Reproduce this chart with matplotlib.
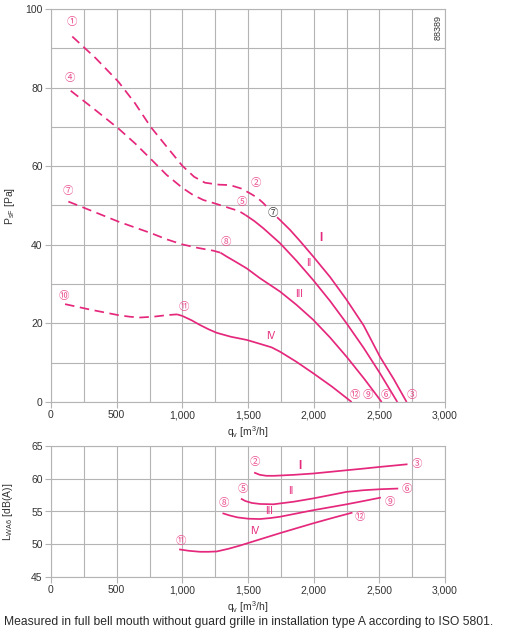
import matplotlib
matplotlib.use("Agg")
import matplotlib.pyplot as plt
from matplotlib.ticker import MultipleLocator, FuncFormatter

plt.rcParams['font.family'] = ['Liberation Sans', 'DejaVu Sans']
plt.rcParams['mathtext.fontset'] = 'custom'
plt.rcParams['mathtext.rm'] = 'Liberation Sans'
plt.rcParams['mathtext.it'] = 'Liberation Sans'

# ---------------- data: pressure curves (q [m3/h], p [Pa]) ----------------
c1_dash_q = [162, 340, 513, 640, 759, 880, 1000, 1090, 1172, 1280, 1363, 1450, 1515, 1570, 1617, 1690]
c1_dash_p = [93.0, 87.5, 81.5, 76.0, 70.0, 65.0, 60.1, 57.3, 55.8, 55.3, 55.2, 54.3, 53.1, 52.0, 50.6, 48.0]
c1_sol_q = [1690, 1744, 1820, 1900, 1997, 2125, 2251, 2380, 2505, 2610, 2708]
c1_sol_p = [48.0, 46.3, 43.8, 40.8, 37.0, 31.8, 26.0, 19.5, 11.5, 5.8, 0.0]

c2_dash_q = [150, 330, 513, 640, 767, 880, 1000, 1080, 1160, 1260, 1363, 1430, 1480]
c2_dash_p = [79.2, 74.5, 69.6, 65.8, 61.6, 57.8, 54.5, 52.7, 51.4, 50.4, 49.3, 48.6, 47.6]
c2_sol_q = [1480, 1550, 1617, 1744, 1870, 1997, 2125, 2251, 2380, 2505, 2637]
c2_sol_p = [47.6, 46.0, 44.2, 40.4, 35.9, 31.0, 25.7, 20.0, 13.8, 7.3, 0.0]

c3_dash_q = [132, 320, 513, 640, 767, 880, 1000, 1120, 1236, 1290]
c3_dash_p = [51.0, 48.5, 45.9, 44.4, 42.9, 41.4, 40.1, 39.2, 38.5, 38.0]
c3_sol_q = [1290, 1338, 1410, 1490, 1591, 1744, 1870, 1997, 2125, 2251, 2385, 2518]
c3_sol_p = [38.0, 37.0, 35.6, 34.0, 31.5, 28.1, 24.7, 20.9, 16.4, 11.5, 5.9, 0.0]

c4_dash_q = [107, 300, 513, 600, 678, 780, 881, 960]
c4_dash_p = [24.9, 23.5, 22.1, 21.7, 21.5, 21.7, 22.1, 22.3]
c4_sol_q = [960, 1000, 1070, 1134, 1200, 1262, 1370, 1490, 1591, 1680, 1744, 1870, 1997, 2140, 2289]
c4_sol_p = [22.3, 21.9, 20.8, 19.6, 18.5, 17.6, 16.6, 15.8, 14.8, 13.9, 12.8, 10.2, 7.3, 3.9, 0.0]

# ---------------- data: sound power curves (q [m3/h], L [dB(A)]) ----------------
s1_q = [1553, 1590, 1640, 1700, 1850, 1997, 2125, 2251, 2380, 2500, 2708]
s1_l = [60.9, 60.6, 60.45, 60.45, 60.6, 60.8, 61.05, 61.3, 61.55, 61.8, 62.2]
s2_q = [1452, 1480, 1530, 1591, 1693, 1850, 1997, 2125, 2251, 2380, 2505, 2637]
s2_l = [56.9, 56.6, 56.3, 56.15, 56.1, 56.5, 57.0, 57.5, 58.0, 58.25, 58.4, 58.5]
s3_q = [1312, 1360, 1420, 1502, 1591, 1670, 1744, 1870, 1997, 2125, 2251, 2380, 2505]
s3_l = [54.7, 54.4, 54.1, 53.9, 53.85, 54.0, 54.2, 54.7, 55.2, 55.65, 56.1, 56.6, 57.1]
s4_q = [982, 1050, 1134, 1200, 1262, 1350, 1439, 1591, 1744, 1870, 1997, 2140, 2289]
s4_l = [49.2, 49.0, 48.85, 48.85, 48.9, 49.3, 49.8, 50.75, 51.7, 52.45, 53.2, 54.0, 54.8]

# ---------------- labels ----------------
top_marks = ['①', '④', '⑦', '⑩', '②', '⑤', '⑧', '⑪', '⑫', '⑨', '⑥', '③']
top_marks_q = [160, 145, 130, 99, 1560, 1455, 1330, 1013, 2315, 2416, 2551, 2751]
top_marks_p = [96.7, 82.4, 53.7, 27.0, 55.7, 51.0, 40.6, 24.3, 1.8, 1.8, 1.8, 1.8]
op_mark, op_q, op_p = '⑦', 1690, 48.0

roman = ['I', 'II', 'III', 'IV']
top_roman_q = [2056, 1959, 1891, 1675]
top_roman_p = [41.8, 35.3, 27.4, 16.8]

bot_marks = ['②', '⑤', '⑧', '⑪', '③', '⑥', '⑨', '⑫']
bot_marks_q = [1553, 1457, 1317, 987, 2784, 2708, 2581, 2353]
bot_marks_l = [62.5, 58.5, 56.3, 50.5, 62.2, 58.4, 56.5, 54.1]
bot_roman_q = [1896, 1825, 1660, 1553]
bot_roman_l = [62.0, 58.1, 55.0, 52.0]

caption = "Measured in full bell mouth without guard grille in installation type A according to ISO 5801."

LINE = '#e5287c'
MARK = '#ea4f8e'
GRID = '#b4b4b4'
TXT = '#333333'
CJK = ['Noto Sans CJK JP', 'DejaVu Sans']

fig = plt.figure(figsize=(5.08, 6.41), dpi=100)
ax1 = fig.add_axes([51/508, 1-402/641, 394/508, 393/641])
ax2 = fig.add_axes([51/508, 1-577/641, 394/508, 131/641])

fmt = FuncFormatter(lambda v, pos: f"{int(round(v)):,}")

def style(ax, ymaj, ymin):
    ax.set_xlim(0, 3000)
    ax.xaxis.set_major_locator(MultipleLocator(500))
    ax.xaxis.set_minor_locator(MultipleLocator(250))
    ax.yaxis.set_major_locator(MultipleLocator(ymaj))
    ax.yaxis.set_minor_locator(MultipleLocator(ymin))
    ax.xaxis.set_major_formatter(fmt)
    ax.grid(True, which='both', color=GRID, lw=0.8)
    ax.set_axisbelow(True)
    for s in ax.spines.values():
        s.set_color(GRID)
        s.set_linewidth(0.8)
    ax.tick_params(which='major', direction='out', length=4, width=0.8,
                   color=GRID, labelsize=7.5, labelcolor=TXT, pad=2)
    ax.tick_params(which='minor', length=0)

style(ax1, 20, 10)
ax1.set_ylim(0, 100)
style(ax2, 5, 5)
ax2.set_ylim(45, 65)

lw = 1.25
dash = (0, (5.5, 3.2))
for dq, dp, sq, sp in [(c1_dash_q, c1_dash_p, c1_sol_q, c1_sol_p),
                       (c2_dash_q, c2_dash_p, c2_sol_q, c2_sol_p),
                       (c3_dash_q, c3_dash_p, c3_sol_q, c3_sol_p),
                       (c4_dash_q, c4_dash_p, c4_sol_q, c4_sol_p)]:
    ax1.plot(dq, dp, color=LINE, lw=lw, linestyle=dash)
    ax1.plot(sq, sp, color=LINE, lw=lw, solid_capstyle='butt', solid_joinstyle='round')

for q, l in [(s1_q, s1_l), (s2_q, s2_l), (s3_q, s3_l), (s4_q, s4_l)]:
    ax2.plot(q, l, color=LINE, lw=lw, solid_joinstyle='round')

for m, q, p in zip(top_marks, top_marks_q, top_marks_p):
    ax1.text(q, p, m, family=CJK, fontsize=7.5, color=MARK, ha='center', va='center')
ax1.text(op_q, op_p, op_mark, family=CJK, fontsize=7.5, color='#333333', ha='center', va='center',
         bbox=dict(boxstyle='circle,pad=0.05', fc='white', ec='none'))

for i, (r, q, p) in enumerate(zip(roman, top_roman_q, top_roman_p)):
    ax1.text(q, p, r, fontsize=8.5 if i == 0 else 7, fontweight='bold' if i == 0 else 'normal',
             color=LINE, ha='center', va='center')

for m, q, l in zip(bot_marks, bot_marks_q, bot_marks_l):
    ax2.text(q, l, m, family=CJK, fontsize=7.5, color=MARK, ha='center', va='center')
for i, (r, q, l) in enumerate(zip(roman, bot_roman_q, bot_roman_l)):
    ax2.text(q, l, r, fontsize=8.5 if i == 0 else 7, fontweight='bold' if i == 0 else 'normal',
             color=LINE, ha='center', va='center')

ax1.text(0.982, 0.952, '88389', transform=ax1.transAxes, rotation=90, fontsize=6.5,
         color=TXT, ha='center', va='center')

ax1.set_xlabel(r'q$_{\mathrm{v}}$ [m$^{\mathrm{3}}$/h]', fontsize=7.5, color=TXT, labelpad=3)
ax2.set_xlabel(r'q$_{\mathrm{v}}$ [m$^{\mathrm{3}}$/h]', fontsize=7.5, color=TXT, labelpad=3)
ax1.set_ylabel(r'P$_{\mathrm{sF}}$ [Pa]', fontsize=7.5, color=TXT)
ax2.set_ylabel(r'L$_{\mathrm{WA6}}$ [dB(A)]', fontsize=7.5, color=TXT)
ax1.yaxis.set_label_coords(-0.086, 0.5)
ax2.yaxis.set_label_coords(-0.091, 0.5)

cap = fig.text(4/508, 1-622/641, caption, fontsize=9, color='#2a2a2a', ha='left', va='center')
fig.canvas.draw()
w = cap.get_window_extent().width
cap.set_fontsize(9 * 492 / w)

fig.savefig('out.png', dpi=100)
